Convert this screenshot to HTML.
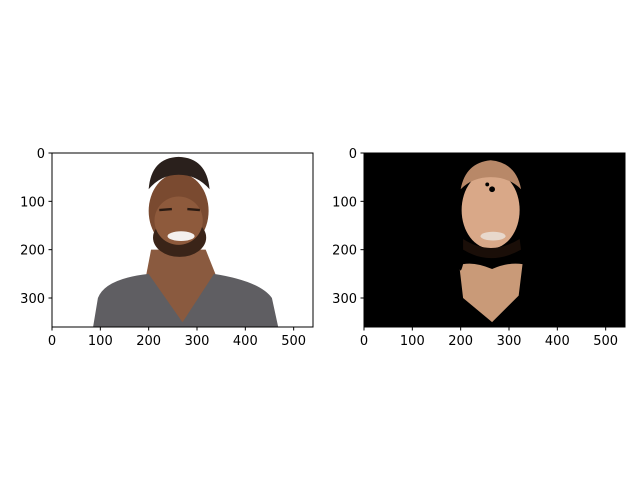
<!DOCTYPE html>
<html><head><meta charset="utf-8"><style>
html,body{margin:0;padding:0;background:#fff;}
svg text{font-family:"DejaVu Sans","Liberation Sans",sans-serif;font-size:13px;fill:#000;}
</style></head><body>
<svg id="fig" width="640" height="480" viewBox="0 0 640 480" xmlns="http://www.w3.org/2000/svg">
<rect width="640" height="480" fill="#fff"/>
<defs>
<clipPath id="clipL"><rect x="0" y="0" width="540" height="360"/></clipPath>
</defs>
<g id="panelL"></g>
<g id="panelR"></g>
</svg>
<script>
const xTicks=[0,100,200,300,400,500];
const yTicks=[0,100,200,300];
const imgW=540, imgH=360;
const panels=[{id:'panelL',x0:52,kind:'orig'},{id:'panelR',x0:364,kind:'mask'}];
const top0=153, axW=261, axH=174;
const NS='http://www.w3.org/2000/svg';
function mk(t,a,p){const e=document.createElementNS(NS,t);for(const k in a)e.setAttribute(k,a[k]);p.appendChild(e);return e;}
panels.forEach(P=>{
  const g=document.getElementById(P.id);
  const sx=v=>P.x0+v*axW/imgW, sy=v=>top0+v*axH/imgH;
  const img=mk('g',{transform:`translate(${P.x0},${top0}) scale(${axW/imgW},${axH/imgH})`,'clip-path':'url(#clipL)'},g);
  
  
  if(P.kind==='orig'){
    mk('rect',{x:0,y:0,width:540,height:360,fill:'#fff'},img);
    mk('path',{d:'M205 200 L318 200 L338 250 L270 355 L195 252 Z',fill:'#8a5a3f'},img);
    mk('path',{d:'M85 360 L95 300 Q110 260 200 250 L270 350 L335 250 Q430 265 455 300 L468 360 Z',fill:'#5f5e62'},img);
    mk('path',{d:'M200 250 L270 350 L335 250 L330 245 L270 340 L205 245 Z',fill:'#8a5a3f'},img);
    mk('ellipse',{cx:262,cy:120,rx:62,ry:78,fill:'#7a4a30'},img);
    mk('ellipse',{cx:264,cy:175,rx:55,ry:40,fill:'#3a2418'},img);
    mk('ellipse',{cx:262,cy:140,rx:50,ry:50,fill:'#8e5a3c'},img);
    mk('path',{d:'M200 75 Q205 10 262 8 Q320 10 326 75 Q300 45 262 45 Q225 45 200 75 Z',fill:'#2a201c'},img);
    mk('ellipse',{cx:267,cy:172,rx:28,ry:10,fill:'#f4f0ee'},img);
    mk('path',{d:'M222 118 L248 116 M280 116 L306 118',stroke:'#2a1a12','stroke-width':5},img);
  } else {
    mk('rect',{x:0,y:0,width:540,height:360,fill:'#000'},img);
    mk('path',{d:'M205 230 Q200 250 198 240 L205 300 L265 350 L320 295 L328 230 Q300 225 265 240 Q230 225 205 230 Z',fill:'#c99a78'},img);
    mk('ellipse',{cx:262,cy:118,rx:60,ry:80,fill:'#d9a888'},img);
    mk('path',{d:'M200 75 Q210 20 262 15 Q315 20 325 75 Q300 50 262 50 Q225 50 200 75 Z',fill:'#b88868'},img);
    mk('path',{d:'M205 178 Q262 215 322 178 L325 200 Q262 235 205 200 Z',fill:'#1a0e08'},img);
    mk('ellipse',{cx:267,cy:172,rx:26,ry:9,fill:'#e8d8cc'},img);
    mk('circle',{cx:265,cy:75,r:6,fill:'#000'},img);
    mk('circle',{cx:255,cy:65,r:4,fill:'#000'},img);
    mk('rect',{x:185,y:95,width:12,height:30,fill:'#000'},img);
  }
  const fr=mk('rect',{x:P.x0,y:top0,width:axW,height:axH,fill:'none',stroke:'#000','stroke-width':1},g);
  
  
  xTicks.forEach(t=>{
    const x=sx(t);
    mk('line',{x1:x,y1:top0+axH,x2:x,y2:top0+axH+3.5,stroke:'#000'},g);
    const tx=mk('text',{x:x,y:top0+axH+18,'text-anchor':'middle'},g);tx.textContent=t;
    
    
  });
  yTicks.forEach(t=>{
    const y=sy(t);
    mk('line',{x1:P.x0,y1:y,x2:P.x0-3.5,y2:y,stroke:'#000'},g);
    const tx=mk('text',{x:P.x0-7,y:y+5,'text-anchor':'end'},g);tx.textContent=t;
    
    
  });
});
</script>
</body></html>
